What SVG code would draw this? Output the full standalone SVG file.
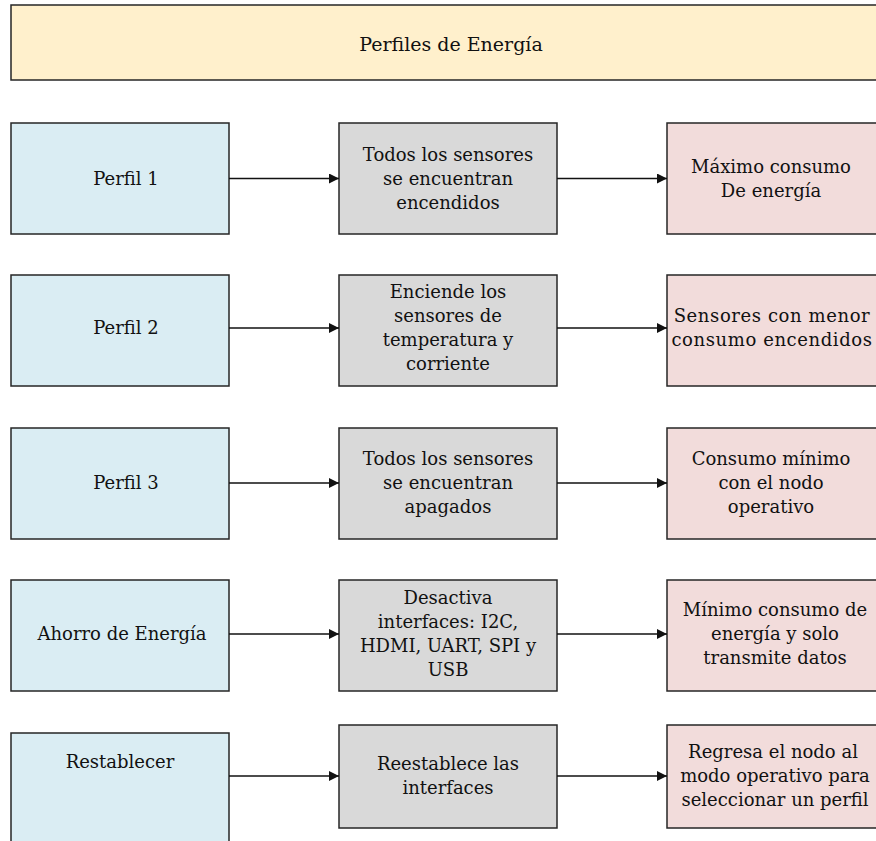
<svg xmlns="http://www.w3.org/2000/svg" width="876" height="841" viewBox="0 0 876 841">
  <style>
    .box { stroke: #262626; stroke-width: 1.5; }
    .title { fill: #fff0cc; }
    .profile { fill: #daedf3; }
    .action { fill: #d9d9d9; }
    .result { fill: #f2dcdb; }
    text { font-family: "DejaVu Serif", "Liberation Serif", serif; font-size: 18px; fill: #111; text-anchor: middle; }
    .wide { letter-spacing: 0.6px; }
    .link { stroke: #111; stroke-width: 1.3; fill: none; marker-end: url(#arrow); }
  </style>
  <defs>
    <marker id="arrow" viewBox="0 0 10 10" refX="10" refY="5" markerWidth="10" markerHeight="10" markerUnits="userSpaceOnUse" orient="auto">
      <path d="M0,0 L10,5 L0,10 z" fill="#111"/>
    </marker>
  </defs>
  <rect width="876" height="841" fill="#fff"/>

  <g id="header">
    <rect class="box title" x="11" y="5" width="880" height="75"/>
    <text x="451" y="51" style="font-size:19px">Perfiles de Energía</text>
  </g>

  <!-- Row 1 -->
  <g id="perfil1">
    <rect class="box profile" x="11" y="123" width="218" height="111"/>
    <text x="126" y="185">Perfil 1</text>
  </g>
  <g id="accion1">
    <rect class="box action" x="339" y="123" width="218" height="111"/>
    <text x="448" y="161">Todos los sensores</text>
    <text x="448" y="185">se encuentran</text>
    <text x="448" y="209">encendidos</text>
  </g>
  <g id="resultado1">
    <rect class="box result" x="667" y="123" width="218" height="111"/>
    <text x="771" y="173">Máximo consumo</text>
    <text x="771" y="197">De energía</text>
  </g>

  <!-- Row 2 -->
  <g id="perfil2">
    <rect class="box profile" x="11" y="275" width="218" height="111"/>
    <text x="126" y="334">Perfil 2</text>
  </g>
  <g id="accion2">
    <rect class="box action" x="339" y="275" width="218" height="111"/>
    <text x="448" y="298">Enciende los</text>
    <text x="448" y="322">sensores de</text>
    <text x="448" y="346">temperatura y</text>
    <text x="448" y="370">corriente</text>
  </g>
  <g id="resultado2">
    <rect class="box result" x="667" y="275" width="218" height="111"/>
    <text class="wide" x="772" y="322">Sensores con menor</text>
    <text class="wide" x="772" y="346">consumo encendidos</text>
  </g>

  <!-- Row 3 -->
  <g id="perfil3">
    <rect class="box profile" x="11" y="428" width="218" height="111"/>
    <text x="126" y="489">Perfil 3</text>
  </g>
  <g id="accion3">
    <rect class="box action" x="339" y="428" width="218" height="111"/>
    <text x="448" y="465">Todos los sensores</text>
    <text x="448" y="489">se encuentran</text>
    <text x="448" y="513">apagados</text>
  </g>
  <g id="resultado3">
    <rect class="box result" x="667" y="428" width="218" height="111"/>
    <text x="771" y="465">Consumo mínimo</text>
    <text x="771" y="489">con el nodo</text>
    <text x="771" y="513">operativo</text>
  </g>

  <!-- Row 4 -->
  <g id="ahorro">
    <rect class="box profile" x="11" y="580" width="218" height="111"/>
    <text x="122" y="640">Ahorro de Energía</text>
  </g>
  <g id="accion4">
    <rect class="box action" x="339" y="580" width="218" height="111"/>
    <text x="448" y="604">Desactiva</text>
    <text x="448" y="628">interfaces: I2C,</text>
    <text x="448" y="652">HDMI, UART, SPI y</text>
    <text x="448" y="676">USB</text>
  </g>
  <g id="resultado4">
    <rect class="box result" x="667" y="580" width="218" height="111"/>
    <text x="775" y="616">Mínimo consumo de</text>
    <text x="775" y="640">energía y solo</text>
    <text x="775" y="664">transmite datos</text>
  </g>

  <!-- Row 5 -->
  <g id="restablecer">
    <rect class="box profile" x="11" y="733" width="218" height="120"/>
    <text x="120" y="768">Restablecer</text>
  </g>
  <g id="accion5">
    <rect class="box action" x="339" y="725" width="218" height="103"/>
    <text x="448" y="770">Reestablece las</text>
    <text x="448" y="794">interfaces</text>
  </g>
  <g id="resultado5">
    <rect class="box result" x="667" y="725" width="218" height="103"/>
    <text x="773" y="758">Regresa el nodo al</text>
    <text x="775" y="782">modo operativo para</text>
    <text x="775" y="806">seleccionar un perfil</text>
  </g>

  <g id="connectors">
    <line class="link" x1="229" y1="178.5" x2="339" y2="178.5"/>
    <line class="link" x1="557" y1="178.5" x2="667" y2="178.5"/>
    <line class="link" x1="229" y1="328" x2="339" y2="328"/>
    <line class="link" x1="557" y1="328" x2="667" y2="328"/>
    <line class="link" x1="229" y1="483" x2="339" y2="483"/>
    <line class="link" x1="557" y1="483" x2="667" y2="483"/>
    <line class="link" x1="229" y1="634" x2="339" y2="634"/>
    <line class="link" x1="557" y1="634" x2="667" y2="634"/>
    <line class="link" x1="229" y1="776" x2="339" y2="776"/>
    <line class="link" x1="557" y1="776" x2="667" y2="776"/>
  </g>
</svg>
